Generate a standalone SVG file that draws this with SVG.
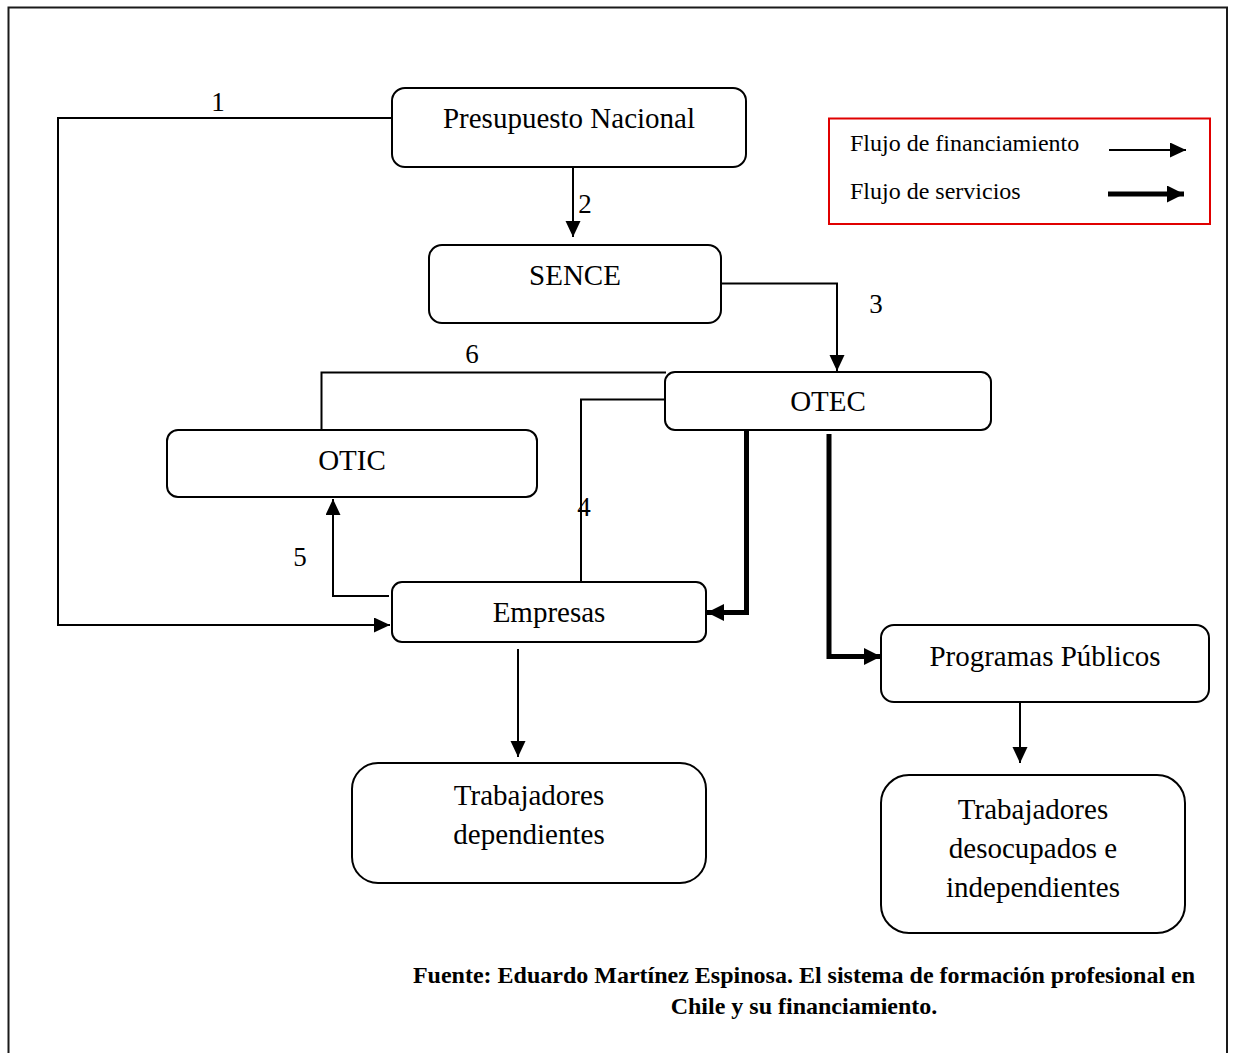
<svg xmlns="http://www.w3.org/2000/svg" width="1233" height="1053" viewBox="0 0 1233 1053">
<style>
.box{fill:#fff;stroke:#000;stroke-width:2}
.lbl{font-family:"Liberation Serif","Times New Roman",serif;font-size:29px;fill:#000;text-anchor:middle}
.num{font-family:"Liberation Serif","Times New Roman",serif;font-size:27px;fill:#000;text-anchor:middle}
.leg{font-family:"Liberation Serif","Times New Roman",serif;font-size:24px;fill:#000}
.src{font-family:"Liberation Serif","Times New Roman",serif;font-size:24px;font-weight:bold;fill:#000;text-anchor:middle}
.thin{fill:none;stroke:#000;stroke-width:2}
.thick{fill:none;stroke:#000;stroke-width:5}
</style>
<defs>
<marker id="ah" markerUnits="userSpaceOnUse" markerWidth="16" markerHeight="16" refX="16" refY="7.5" orient="auto">
<path d="M0,0 L16,7.5 L0,15 z" fill="#000"/>
</marker>
<marker id="ahb" markerUnits="userSpaceOnUse" markerWidth="19" markerHeight="19" refX="17" refY="8.5" orient="auto">
<path d="M0,0 L17,8.5 L0,17 z" fill="#000"/>
</marker>
</defs>
<rect x="0" y="0" width="1233" height="1053" fill="#fff"/>
<rect x="8.5" y="7.5" width="1218.5" height="1070" fill="none" stroke="#1a1a1a" stroke-width="2"/>

<g id="connectors">
<path class="thin" d="M392,118 H58 V625 H390" marker-end="url(#ah)"/>
<path class="thin" d="M573,167 V237" marker-end="url(#ah)"/>
<path class="thin" d="M721,283.5 H837 V371" marker-end="url(#ah)"/>
<path class="thin" d="M666,372.5 H321.5 V430"/>
<path class="thin" d="M666,399.5 H581 V582"/>
<path class="thin" d="M389,596 H333 V499" marker-end="url(#ah)"/>
<path class="thin" d="M518,649 V757" marker-end="url(#ah)"/>
<path class="thin" d="M1020,703 V763" marker-end="url(#ah)"/>
<path class="thick" d="M746.5,430 V612.5 H707" marker-end="url(#ahb)"/>
<path class="thick" d="M829,434 V656.5 H881" marker-end="url(#ahb)"/>
</g>

<g id="labels">
<text class="num" x="218" y="111">1</text>
<text class="num" x="585" y="213">2</text>
<text class="num" x="876" y="313">3</text>
<text class="num" x="584" y="516">4</text>
<text class="num" x="300" y="566">5</text>
<text class="num" x="472" y="363">6</text>
</g>

<g id="presupuesto">
<rect class="box" x="392" y="88" width="354" height="79" rx="13"/>
<text class="lbl" x="569" y="128">Presupuesto Nacional</text>
</g>
<g id="sence">
<rect class="box" x="429" y="245" width="292" height="78" rx="13"/>
<text class="lbl" x="575" y="285">SENCE</text>
</g>
<g id="otec">
<rect class="box" x="665" y="372" width="326" height="58" rx="10"/>
<text class="lbl" x="828" y="411">OTEC</text>
</g>
<g id="otic">
<rect class="box" x="167" y="430" width="370" height="67" rx="11"/>
<text class="lbl" x="352" y="470">OTIC</text>
</g>
<g id="empresas">
<rect class="box" x="392" y="582" width="314" height="60" rx="10"/>
<text class="lbl" x="549" y="622">Empresas</text>
</g>
<g id="programas">
<rect class="box" x="881" y="625" width="328" height="77" rx="13"/>
<text class="lbl" x="1045" y="666">Programas Públicos</text>
</g>
<g id="trab-dep">
<rect class="box" x="352" y="763" width="354" height="120" rx="26"/>
<text class="lbl" x="529" y="805">Trabajadores</text>
<text class="lbl" x="529" y="844">dependientes</text>
</g>
<g id="trab-des">
<rect class="box" x="881" y="775" width="304" height="158" rx="28"/>
<text class="lbl" x="1033" y="819">Trabajadores</text>
<text class="lbl" x="1033" y="858">desocupados e</text>
<text class="lbl" x="1033" y="897">independientes</text>
</g>

<g id="legend">
<rect x="829" y="118.5" width="381" height="105.5" fill="none" stroke="#e00000" stroke-width="2"/>
<text class="leg" x="850" y="151">Flujo de financiamiento</text>
<text class="leg" x="850" y="199">Flujo de servicios</text>
<path class="thin" d="M1109,150 H1186" marker-end="url(#ah)"/>
<path class="thick" d="M1108,194 H1184" marker-end="url(#ahb)"/>
</g>

<g id="source">
<text class="src" x="804" y="983">Fuente: Eduardo Martínez Espinosa. El sistema de formación profesional en</text>
<text class="src" x="804" y="1014">Chile y su financiamiento.</text>
</g>
</svg>
